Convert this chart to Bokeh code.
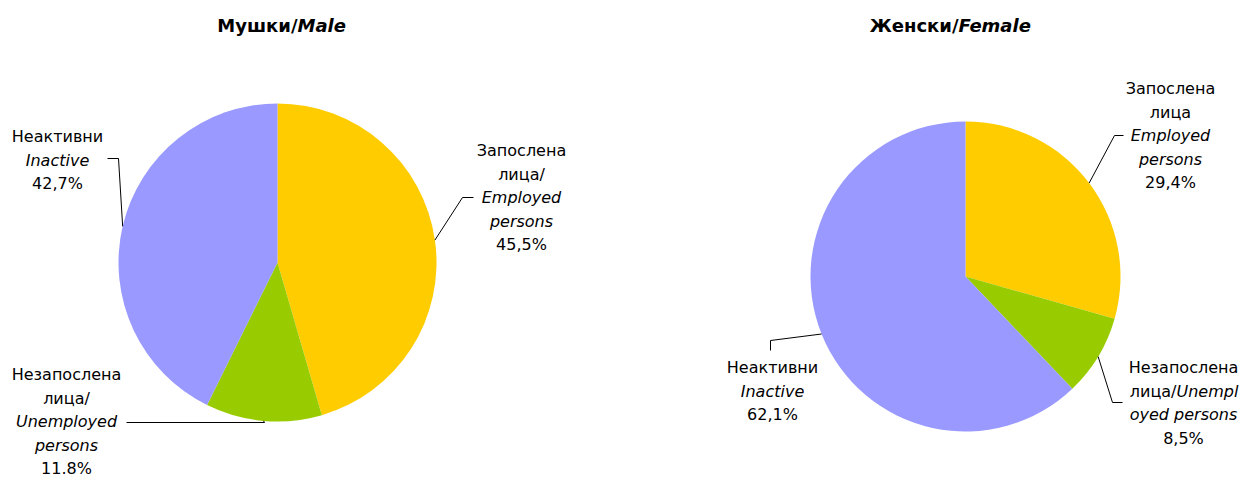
import math
from bokeh.plotting import figure
from bokeh.models import Range1d, ColumnDataSource
from bokeh.core.properties import value
from bokeh.embed import file_html
from bokeh.resources import INLINE

# ---- data ----
categories = ["Employed", "Unemployed", "Inactive"]
male_values = [45.5, 11.8, 42.7]
female_values = [29.4, 8.5, 62.1]
male_pct_labels = ["45,5%", "11.8%", "42,7%"]
female_pct_labels = ["29,4%", "8,5%", "62,1%"]
colors = ["#FFCC00", "#99CC00", "#9999FF"]

W, H = 1245, 477
FONT = "DejaVu Sans"
LBL = "16px"
TTL = "18px"

def px(X):
    return X

def py(Y):
    return H - Y

p = figure(width=W, height=H, output_backend="svg", toolbar_location=None,
           x_range=Range1d(0, W), y_range=Range1d(0, H), min_border=0)
p.axis.visible = False
p.grid.visible = False
p.outline_line_color = None
p.background_fill_color = "white"
p.border_fill_color = "white"


def draw_pie(cx, cy, r, vals):
    total = sum(vals)
    starts, ends, mids = [], [], []
    a = math.pi / 2
    for v in vals:
        b = a - v / total * 2 * math.pi
        starts.append(a)
        ends.append(b)
        mids.append((a + b) / 2)
        a = b
    src = ColumnDataSource(dict(x=[px(cx)] * len(vals), y=[py(cy)] * len(vals),
                                start=starts, end=ends, color=colors))
    p.wedge(x="x", y="y", radius=r, start_angle="start", end_angle="end",
            direction="clock", fill_color="color", line_color=None, source=src)
    pts = [(px(cx) + r * math.cos(m), py(cy) + r * math.sin(m)) for m in mids]
    return pts


def leader(start, elbows):
    xs = [start[0]] + [px(e[0]) for e in elbows]
    ys = [start[1]] + [py(e[1]) for e in elbows]
    p.line(xs, ys, line_color="black", line_width=1)


def label(X, Y, txt, style="normal", align="center", size=LBL):
    p.text(x=[px(X)], y=[py(Y)], text=[txt], text_align=align, text_baseline="middle",
           text_font=value(FONT), text_font_size=size, text_font_style=style,
           text_color="black")


# ---- Male pie ----
mp = draw_pie(277, 262, 159, male_values)
leader(mp[0], [(462, 197), (473, 197)])
leader(mp[1], [(mp[1][0] + 1, 422), (126, 422)])
leader(mp[2], [(118, 158), (107, 158)])

for i, (t, s) in enumerate([("Запослена", "normal"), ("лица/", "normal"),
                            ("Employed", "italic"), ("persons", "italic"),
                            (male_pct_labels[0], "normal")]):
    label(521, 150 + i * 23.5, t, s)
for i, (t, s) in enumerate([("Незапослена", "normal"), ("лица/", "normal"),
                            ("Unemployed", "italic"), ("persons", "italic"),
                            (male_pct_labels[1], "normal")]):
    label(66, 374 + i * 23.5, t, s)
for i, (t, s) in enumerate([("Неактивни", "normal"), ("Inactive", "italic"),
                            (male_pct_labels[2], "normal")]):
    label(57, 136 + i * 23.5, t, s)

# ---- Female pie ----
fp = draw_pie(965, 276, 155, female_values)
leader(fp[0], [(1114, 135), (1123, 135)])
leader(fp[1], [(1112, 402), (1122, 402)])
leader(fp[2], [(770, 340), (770, 350)])

for i, (t, s) in enumerate([("Запослена", "normal"), ("лица", "normal"),
                            ("Employed", "italic"), ("persons", "italic"),
                            (female_pct_labels[0], "normal")]):
    label(1170, 88 + i * 23.5, t, s)

label(1183, 367, "Незапослена")
label(1176, 390.5, "лица/", align="right")
label(1176, 390.5, "Unempl", "italic", align="left")
label(1183, 414, "oyed persons", "italic")
label(1183, 437.5, female_pct_labels[1])

for i, (t, s) in enumerate([("Неактивни", "normal"), ("Inactive", "italic"),
                            (female_pct_labels[2], "normal")]):
    label(772, 367 + i * 23.5, t, s)

# ---- Titles ----
p.text(x=[px(297)], y=[py(25)], text=["Мушки/"], text_align="right", text_baseline="middle",
       text_font=value(FONT), text_font_size=TTL, text_font_style="bold")
p.text(x=[px(297)], y=[py(25)], text=["Male"], text_align="left", text_baseline="middle",
       text_font=value(FONT), text_font_size=TTL, text_font_style="bold italic")
p.text(x=[px(958)], y=[py(25)], text=["Женски/"], text_align="right", text_baseline="middle",
       text_font=value(FONT), text_font_size=TTL, text_font_style="bold")
p.text(x=[px(958)], y=[py(25)], text=["Female"], text_align="left", text_baseline="middle",
       text_font=value(FONT), text_font_size=TTL, text_font_style="bold italic")

open("out.html", "w").write(file_html(p, INLINE))
